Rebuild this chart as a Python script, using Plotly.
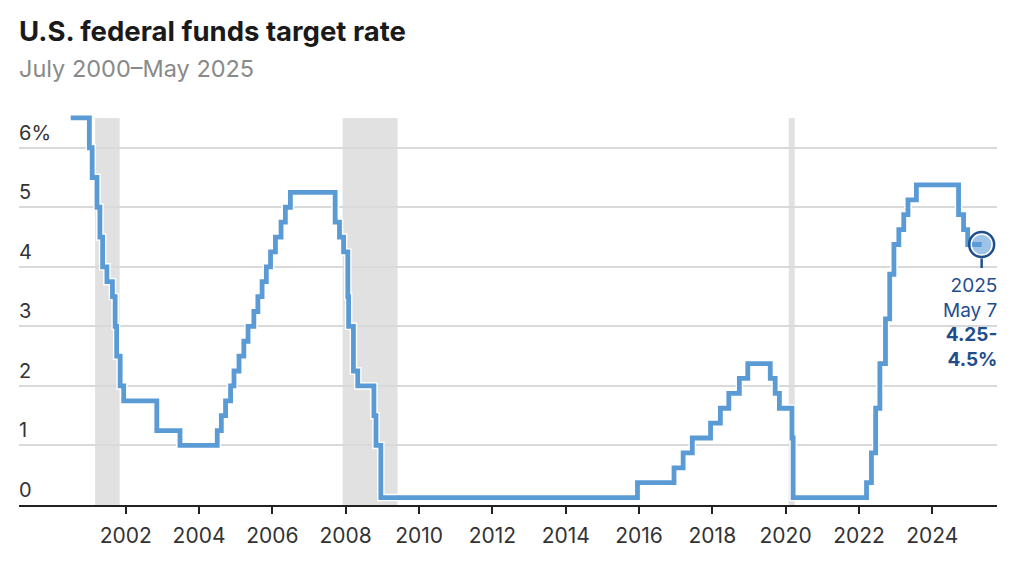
import plotly.graph_objects as go

# fed funds target, midpoint of the range after dec 2008
dates = ['2000-07-01', '2001-01-03', '2001-01-31', '2001-03-20', '2001-04-18', '2001-05-15',
         '2001-06-27', '2001-08-21', '2001-09-17', '2001-10-02', '2001-11-06', '2001-12-11',
         '2002-11-06', '2003-06-25', '2004-06-30', '2004-08-10', '2004-09-21', '2004-11-10',
         '2004-12-14', '2005-02-02', '2005-03-22', '2005-05-03', '2005-06-30', '2005-08-09',
         '2005-09-20', '2005-11-01', '2005-12-13', '2006-01-31', '2006-03-28', '2006-05-10',
         '2006-06-29', '2007-09-18', '2007-10-31', '2007-12-11', '2008-01-22', '2008-01-30',
         '2008-03-18', '2008-04-30', '2008-10-08', '2008-10-29', '2008-12-16', '2015-12-17',
         '2016-12-15', '2017-03-16', '2017-06-15', '2017-12-14', '2018-03-22', '2018-06-14',
         '2018-09-27', '2018-12-20', '2019-08-01', '2019-09-19', '2019-10-31', '2020-03-04',
         '2020-03-16', '2022-03-17', '2022-05-05', '2022-06-16', '2022-07-28', '2022-09-22',
         '2022-11-03', '2022-12-15', '2023-02-02', '2023-03-23', '2023-05-04', '2023-07-27',
         '2024-09-19', '2024-11-08', '2024-12-19', '2025-05-07']
rates = [6.5, 6.0, 5.5, 5.0, 4.5, 4.0,
         3.75, 3.5, 3.0, 2.5, 2.0, 1.75,
         1.25, 1.0, 1.25, 1.5, 1.75, 2.0,
         2.25, 2.5, 2.75, 3.0, 3.25, 3.5,
         3.75, 4.0, 4.25, 4.5, 4.75, 5.0,
         5.25, 4.75, 4.5, 4.25, 3.5, 3.0,
         2.25, 2.0, 1.5, 1.0, 0.125, 0.375,
         0.625, 0.875, 1.125, 1.375, 1.625, 1.875,
         2.125, 2.375, 2.125, 1.875, 1.625, 1.125,
         0.125, 0.375, 0.875, 1.625, 2.375, 3.125,
         3.875, 4.375, 4.625, 4.875, 5.125, 5.375,
         4.875, 4.625, 4.375, 4.375]

recession_start = ['2001-03-01', '2007-12-01', '2020-02-01']
recession_end = ['2001-11-01', '2009-06-01', '2020-04-01']
recession_top = 6.5

year_ticks = ['%d-01-01' % y for y in range(2002, 2026, 2)]
year_labels = [str(y) for y in range(2002, 2026, 2)]
y_ticks = [0, 1, 2, 3, 4, 5, 6]
y_labels = ['0', '1', '2', '3', '4', '5', '6%']
stem_levels = [4.14, 3.98]

BLUE = '#5b9bd5'
NAVY = '#1f4e8c'
FONT = 'Inter'

fig = go.Figure()

# white halo under the line, then the line itself
fig.add_trace(go.Scatter(x=dates, y=rates, mode='lines', line=dict(color='white', width=7.5, shape='hv'),
                         hoverinfo='skip', cliponaxis=False))
fig.add_trace(go.Scatter(x=dates, y=rates, mode='lines', line=dict(color=BLUE, width=4.8, shape='hv'),
                         cliponaxis=False))

# callout for the last point: stem, pale disc, ring
fig.add_trace(go.Scatter(x=[dates[-1], dates[-1]], y=stem_levels, mode='lines',
                         line=dict(color=NAVY, width=2.5), cliponaxis=False))
fig.add_trace(go.Scatter(x=[dates[-1]], y=[rates[-1]], mode='markers', cliponaxis=False,
                         marker=dict(size=21, color='rgba(91,155,213,0.6)', line=dict(color='white', width=1.5))))
fig.add_trace(go.Scatter(x=[dates[-1]], y=[rates[-1]], mode='markers', cliponaxis=False,
                         marker=dict(size=25, color='rgba(0,0,0,0)', line=dict(color=NAVY, width=2.5))))

for start, end in zip(recession_start, recession_end):
    fig.add_shape(type='rect', xref='x', yref='y', x0=start, x1=end, y0=0, y1=recession_top,
                  fillcolor='#e1e1e1', line_width=0, layer='below')

fig.add_annotation(text='<b>U.S. federal funds target rate</b>', xref='paper', yref='paper', x=0, y=1,
                   xanchor='left', yanchor='bottom', yshift=62, xshift=-2, showarrow=False,
                   font=dict(family=FONT, size=27.5, color='#1a1a1a'))
fig.add_annotation(text='July 2000–May 2025', xref='paper', yref='paper', x=0, y=1,
                   xanchor='left', yanchor='bottom', yshift=27.5, xshift=-2, showarrow=False,
                   font=dict(family=FONT, size=23.5, color='#8a8a8a'))
fig.add_annotation(text='2025<br>May 7<br><b>4.25-</b><br><b>4.5%</b>', xref='paper', yref='y', x=1, y=stem_levels[-1],
                   xanchor='right', yanchor='top', yshift=-4, xshift=2, showarrow=False, align='right',
                   font=dict(family=FONT, size=19, color=NAVY))

# the page body adds 8px on the top and left, so the figure is that much smaller
fig.update_layout(
    width=1012, height=565, margin=dict(l=11, r=23, t=103.5, b=68),
    paper_bgcolor='white', plot_bgcolor='white', showlegend=False,
    font=dict(family=FONT, color='#333333'),
    xaxis=dict(range=['1999-02-02', '2025-10-07'], tickmode='array', tickvals=year_ticks, ticktext=year_labels,
               showgrid=False, ticks='outside', ticklen=7, tickwidth=1.5, tickcolor='#222222',
               ticklabelstandoff=4,
               showline=True, linecolor='#222222', linewidth=1.5, tickfont=dict(size=21, color='#333333')),
    yaxis=dict(range=[0, 6.6], tickmode='array', tickvals=y_ticks, ticktext=y_labels,
               ticklabelposition='inside', ticklabelshift=-15, ticklabelstandoff=-3,
               gridcolor='#d9d9d9', gridwidth=1.5,
               zeroline=False, showline=False, tickfont=dict(size=20, color='#333333')),
)

fig.write_html('out.html')
